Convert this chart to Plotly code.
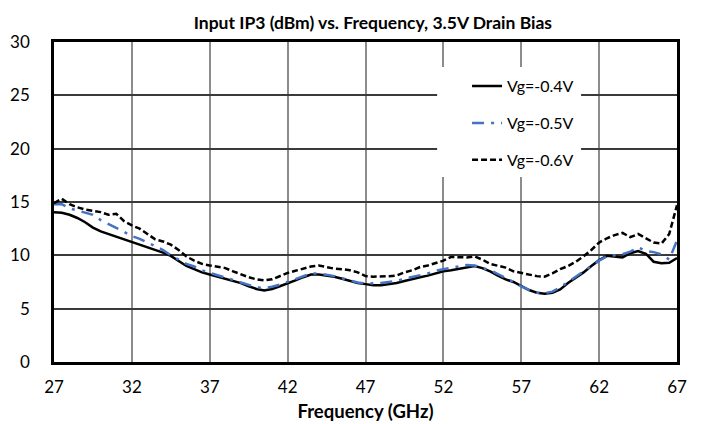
import plotly.graph_objects as go

# frequency grid (GHz), 0.5 GHz step
freq = [27 + 0.5 * i for i in range(81)]

vg_04 = [14.05, 14.0, 13.8, 13.5, 13.1, 12.6, 12.25, 12.0, 11.8, 11.5,
         11.25, 11.0, 10.75, 10.5, 10.25, 9.95, 9.5, 9.0, 8.7, 8.4,
         8.2, 8.0, 7.85, 7.6, 7.4, 7.1, 6.85, 6.7, 6.85, 7.1,
         7.35, 7.65, 7.95, 8.2, 8.2, 8.1, 8.0, 7.8, 7.6, 7.4,
         7.3, 7.2, 7.2, 7.3, 7.4, 7.6, 7.8, 7.95, 8.1, 8.3,
         8.5, 8.6, 8.75, 8.85, 9.0, 8.8, 8.5, 8.1, 7.75, 7.5,
         7.15, 6.75, 6.5, 6.4, 6.5, 6.8, 7.4, 7.9, 8.4, 9.0,
         9.55, 9.95, 9.9, 9.8, 10.2, 10.4, 10.15, 9.4, 9.25, 9.3,
         9.75]

vg_05 = [14.8, 14.8, 14.4, 14.2, 14.0, 13.8, 13.3, 12.95, 12.6, 12.2,
         11.8, 11.55, 11.2, 10.85, 10.5, 10.0, 9.6, 9.2, 8.95, 8.6,
         8.35, 8.15, 7.95, 7.7, 7.45, 7.2, 7.0, 6.95, 7.05, 7.25,
         7.5, 7.8, 8.05, 8.3, 8.3, 8.2, 8.05, 7.85, 7.65, 7.45,
         7.35, 7.35, 7.4, 7.5, 7.6, 7.8, 7.95, 8.1, 8.3, 8.55,
         8.7, 8.85, 9.0, 9.1, 9.05, 8.85, 8.6, 8.25, 7.9, 7.5,
         7.1, 6.75, 6.5, 6.45, 6.6, 7.0, 7.5, 8.0, 8.5, 9.0,
         9.5, 9.9, 10.0, 10.1, 10.35, 10.75, 10.4, 10.3, 10.1, 9.6,
         11.4]

vg_06 = [14.9, 15.3, 14.8, 14.5, 14.3, 14.2, 14.05, 13.8, 13.9, 13.2,
         12.8, 12.5, 12.0, 11.5, 11.3, 11.0, 10.5, 9.9, 9.5, 9.2,
         9.05, 8.9, 8.8, 8.5, 8.2, 7.95, 7.75, 7.65, 7.75, 8.05,
         8.35, 8.55, 8.75, 8.95, 9.05, 8.9, 8.75, 8.7, 8.6, 8.4,
         8.05, 8.0, 8.0, 8.05, 8.1, 8.4, 8.6, 8.9, 9.05, 9.25,
         9.5, 9.85, 9.85, 9.8, 9.9, 9.6, 9.2, 9.05, 8.85, 8.5,
         8.35, 8.2, 8.05, 8.0, 8.3, 8.7, 9.0, 9.4, 9.9, 10.5,
         11.2, 11.6, 11.9, 12.1, 11.7, 12.0, 11.6, 11.2, 11.1, 12.0,
         14.7]

x_ticks = [27, 32, 37, 42, 47, 52, 57, 62, 67]
y_ticks = [0, 5, 10, 15, 20, 25, 30]

FONT = "Lato, 'Open Sans', sans-serif"

series = [
    ("Vg=-0.4V", vg_04, "#000000", "solid"),
    ("Vg=-0.5V", vg_05, "#4472C4", "12px,7px,3px,7px"),
    ("Vg=-0.6V", vg_06, "#000000", "6px,3px"),
]

fig = go.Figure()
for i, (name, vals, color, dash) in enumerate(series):
    fig.add_trace(go.Scatter(
        x=freq, y=vals, mode="lines", name=name, legendgroup=f"g{i}",
        line=dict(color=color, width=2.5, dash=dash),
    ))

# white panel behind the legend, hides the gridlines like the Excel legend box
fig.add_shape(type="rect", xref="paper", yref="paper",
              x0=0.615, x1=0.846, y0=0.578, y1=0.922,
              fillcolor="white", line=dict(width=0), layer="above")

# the page body adds an 8px margin, so the figure is 8px smaller each way
fig.update_layout(
    width=695, height=416,
    margin=dict(l=46, r=26, t=34, b=62, autoexpand=False),
    paper_bgcolor="white", plot_bgcolor="white",
    font=dict(family=FONT, color="#000000", size=17),
    title=dict(text="<b>Input IP3 (dBm) vs. Frequency, 3.5V Drain Bias</b>",
               x=0.525, xanchor="center", y=0.965, yanchor="middle",
               font=dict(size=17.5)),
    legend=dict(x=0.663, y=0.915, xanchor="left", yanchor="top",
                bgcolor="white", borderwidth=0, tracegroupgap=13,
                font=dict(size=16)),
    xaxis=dict(range=[27, 67], tickvals=x_ticks, showgrid=True,
               gridcolor="#8c8c8c", gridwidth=1.5, zeroline=False,
               showline=True, linecolor="black", linewidth=2.5, mirror=True,
               ticks="", ticklabelstandoff=8, automargin=False,
               title=dict(text="<b>Frequency (GHz)</b>", font=dict(size=18.5),
                          standoff=9)),
    yaxis=dict(range=[0, 30], tickvals=y_ticks, showgrid=True,
               gridcolor="#3a3a3a", gridwidth=1.5, zeroline=False,
               showline=True, linecolor="black", linewidth=2.5, mirror=True,
               ticks="", ticklabelstandoff=18, automargin=False),
)

fig.write_html("out.html")
